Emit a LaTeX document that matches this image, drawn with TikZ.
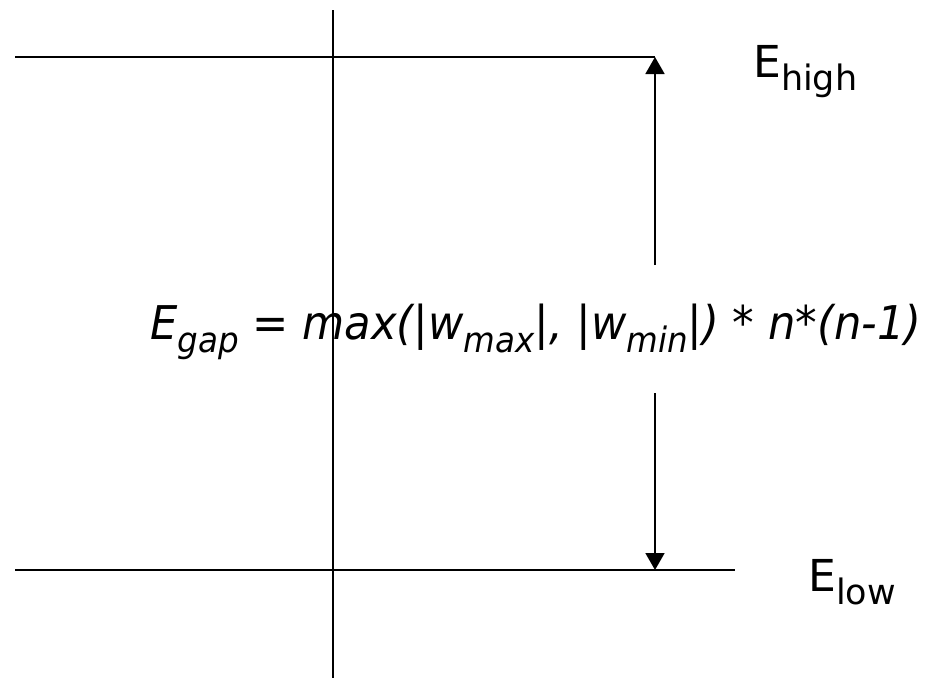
\documentclass[tikz,border=0pt]{standalone}
\usepackage{fontspec}
\setmainfont{DejaVu Sans}
\usetikzlibrary{arrows.meta}
\newcommand{\lowsub}[1]{\raisebox{-0.3em}{\fontsize{35}{37}\selectfont #1}}
\begin{document}
\begin{tikzpicture}[x=1pt,y=-1pt,
  ln/.style={line width=1.8pt},
  tip/.style={-{Triangle[length=17pt 0,width=19pt 0]}},
  lbl/.style={inner sep=0pt,anchor=base west,font=\fontsize{44}{48}\selectfont}]
\useasboundingbox (0,0) rectangle (927,678);
\coordinate (axT) at (333,10);
\coordinate (axB) at (333,678);
\coordinate (hiL) at (15,57);
\coordinate (hiR) at (655,57);
\coordinate (loL) at (15,570);
\coordinate (loR) at (735,570);
\coordinate (loA) at (655,570);
\coordinate (aUp) at (655,265);
\coordinate (aDn) at (655,393);
\draw[ln] (axT) -- (axB);
\draw[ln] (hiL) -- (hiR);
\draw[ln] (loL) -- (loR);
\draw[ln,tip] (aUp) -- (hiR);
\draw[ln,tip] (aDn) -- (loA);
\node[lbl] (eh) at (753,77) {E\lowsub{high}};
\node[lbl] (el) at (808,591) {E\lowsub{low}};
\node[lbl,font=\fontsize{46.5}{50}\selectfont\itshape] (eq) at (150,339) {\scalebox{0.93}[1]{E\lowsub{gap} = max(|w\lowsub{max}|, |w\lowsub{min}|) * n*(n-1)}};
\end{tikzpicture}
\end{document}
